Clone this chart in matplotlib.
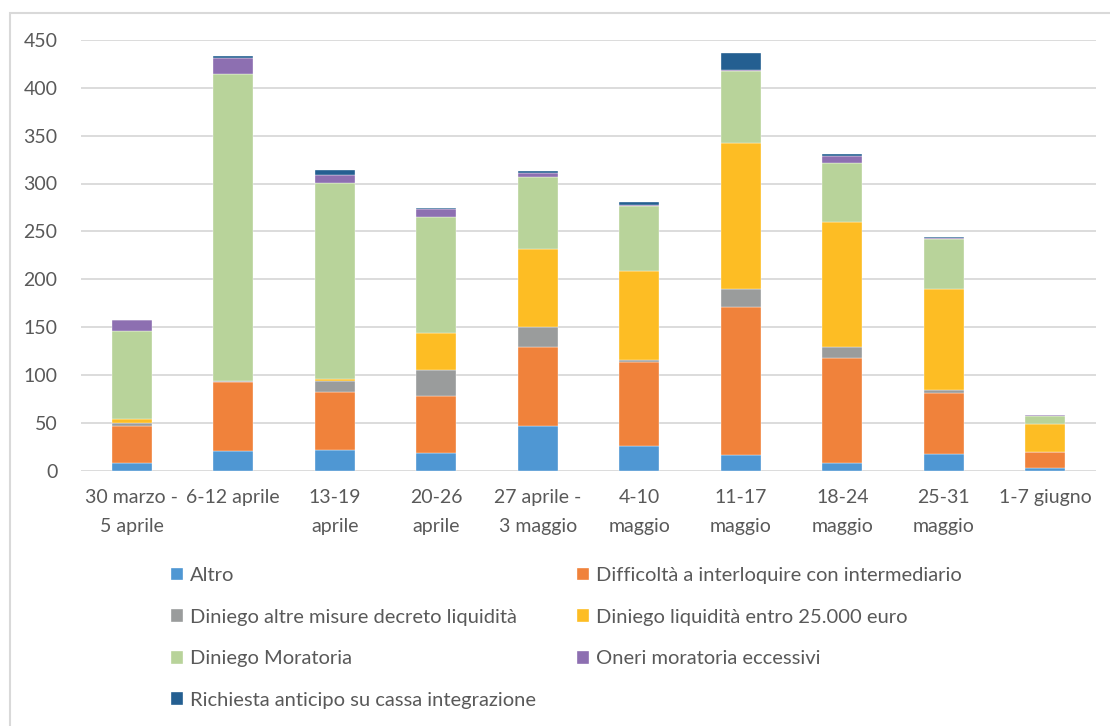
import numpy as np
import matplotlib
matplotlib.use("Agg")
import matplotlib.pyplot as plt
from matplotlib.patches import Rectangle

plt.rcParams['font.family'] = ['Lato', 'DejaVu Sans']

weeks = ["30 marzo -\n5 aprile", "6-12 aprile", "13-19\naprile", "20-26\naprile",
         "27 aprile -\n3 maggio", "4-10\nmaggio", "11-17\nmaggio", "18-24\nmaggio",
         "25-31\nmaggio", "1-7 giugno"]

altro = [8, 20, 21, 18, 47, 26, 16, 8, 17, 3]
difficolta = [38, 73, 61, 60, 82, 87, 155, 110, 64, 16]
diniego_altre = [4, 1, 12, 27, 21, 2, 19, 11, 3, 0]
diniego_liquidita = [4, 0, 2, 39, 82, 94, 152, 131, 106, 30]
diniego_moratoria = [92, 320, 205, 121, 75, 68, 76, 61, 52, 8]
oneri = [11, 17, 8, 8, 4, 1, 1, 8, 1, 1]
richiesta = [0, 2, 5, 1, 2, 3, 17, 2, 1, 0]

series = [
    ("Altro", altro, "#4f97d3"),
    ("Difficoltà a interloquire con intermediario", difficolta, "#f0823b"),
    ("Diniego altre misure decreto liquidità", diniego_altre, "#9a9c9c"),
    ("Diniego liquidità entro 25.000 euro", diniego_liquidita, "#fdbd24"),
    ("Diniego Moratoria", diniego_moratoria, "#b8d39a"),
    ("Oneri moratoria eccessivi", oneri, "#8d6fb1"),
    ("Richiesta anticipo su cassa integrazione", richiesta, "#245f91"),
]

fig = plt.figure(figsize=(11.1, 7.26), dpi=100)
ax = fig.add_axes([81/1110, 1-470.5/726, (1096-81)/1110, (470.5-40)/726])

x = np.arange(len(weeks))
bottom = np.zeros(len(weeks))
handles = []
for name, vals, col in series:
    b = ax.bar(x, vals, 0.395, bottom=bottom, color=col, edgecolor="white",
               linewidth=0.25, label=name, zorder=3)
    handles.append(b)
    bottom += np.array(vals)

ax.set_xlim(-0.5, len(weeks) - 0.5)
ax.set_ylim(0, 450)
ax.set_yticks(np.arange(0, 451, 50))
ax.grid(axis="y", color="#d9d9d9", linewidth=1.3, zorder=0)
for s in ax.spines.values():
    s.set_visible(False)
ax.tick_params(length=0, labelsize=14, labelcolor="#595959")
ax.tick_params(axis="y", pad=17)
ax.tick_params(axis="x", pad=13)
ax.set_xticks(x)
ax.set_xticklabels(weeks, linespacing=1.9)

order = [0, 2, 4, 6, 1, 3, 5]
leg = fig.legend([handles[i] for i in order], [series[i][0] for i in order],
                 ncol=2, loc="upper left", bbox_to_anchor=(153/1110, 1-549/726),
                 frameon=False, fontsize=14.5, labelcolor="#595959",
                 handlelength=0.6, handleheight=0.6, handletextpad=0.35,
                 columnspacing=2.0, labelspacing=1.22)

fig.patches.append(Rectangle((10/1110, -0.1), 1.0, 1 - 13/726 + 0.1,
                             transform=fig.transFigure, fill=False,
                             edgecolor="#d9d9d9", linewidth=1.5))

fig.savefig("out.png", dpi=100)
